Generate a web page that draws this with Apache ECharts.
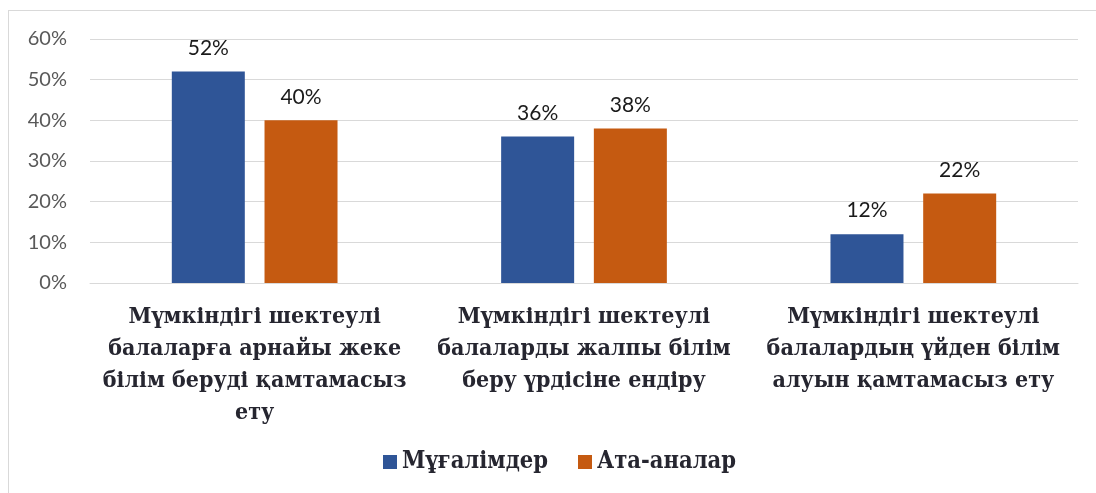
<!DOCTYPE html>
<html>
<head>
<meta charset="utf-8">
<script src="https://cdn.jsdelivr.net/npm/echarts@6/dist/echarts.min.js"></script>
<style>
  html, body { margin: 0; padding: 0; background: #fff; }
  #frame { position: absolute; left: 8px; top: 10px; width: 1100px; height: 500px; border: 1px solid #d9d9d9; box-sizing: border-box; }
  #chart { position: absolute; left: 0; top: 0; width: 1096px; height: 493px; }
</style>
</head>
<body>
<div id="frame"></div>
<div id="chart"></div>
<script>
// категориялар мен мәндер
const categories = [
    'Мүмкіндігі шектеулі\nбалаларға арнайы жеке\nбілім беруді қамтамасыз\nету',
    'Мүмкіндігі шектеулі\nбалаларды жалпы білім\nберу үрдісіне ендіру',
    'Мүмкіндігі шектеулі\nбалалардың үйден білім\nалуын қамтамасыз ету'
]
const teachers = [52, 36, 12]
const parents = [40, 38, 22]
const seriesNames = ['Мұғалімдер', 'Ата-аналар']

const serif = 'DejaVu Serif Condensed'
const sans = 'Lato'

const valueLabel = {
    show: true,
    position: 'top',
    distance: 13,
    formatter: p => p.value + '%',
    fontFamily: sans,
    fontSize: 21,
    color: '#1a1a1a'
}

const chart = echarts.init(document.getElementById('chart'))
chart.setOption({
    animation: false,
    grid: { left: 90, right: 18, top: 39, bottom: 210 },
    legend: {
        bottom: 14,
        left: 378,
        itemWidth: 14,
        itemHeight: 14,
        itemGap: 30,
        icon: 'rect',
        textStyle: { fontFamily: serif, fontWeight: 'bold', fontSize: 23.5, color: '#262630' },
        data: seriesNames
    },
    xAxis: {
        type: 'category',
        data: categories,
        axisLine: { lineStyle: { color: '#d9d9d9', width: 1 } },
        axisTick: { show: false },
        axisLabel: {
            interval: 0,
            margin: 18,
            fontFamily: serif,
            fontWeight: 'bold',
            fontSize: 23,
            lineHeight: 32,
            color: '#262630'
        }
    },
    yAxis: {
        type: 'value',
        min: 0,
        max: 60,
        interval: 10,
        axisLine: { show: false },
        axisTick: { show: false },
        splitLine: { lineStyle: { color: '#d9d9d9', width: 1 } },
        axisLabel: {
            margin: 23,
            formatter: '{value}%',
            fontFamily: sans,
            fontSize: 20,
            color: '#595959'
        }
    },
    series: [
        {
            name: seriesNames[0],
            type: 'bar',
            data: teachers,
            barWidth: 73,
            barGap: '27%',
            itemStyle: { color: '#2f5597' },
            label: valueLabel
        },
        {
            name: seriesNames[1],
            type: 'bar',
            data: parents,
            barWidth: 73,
            barGap: '27%',
            itemStyle: { color: '#c55a11' },
            label: valueLabel
        }
    ]
})
</script>
</body>
</html>
